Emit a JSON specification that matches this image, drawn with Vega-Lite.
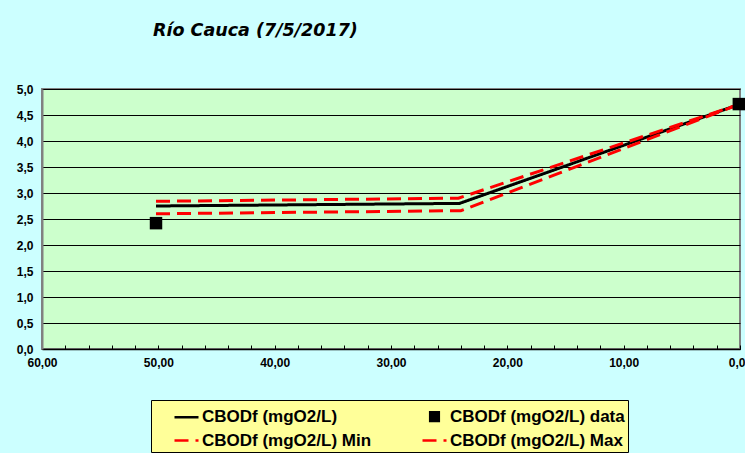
{
  "$schema": "https://vega.github.io/schema/vega-lite/v6.json",
  "width": 698,
  "height": 260,
  "autosize": {"type": "none"},
  "padding": {"left": 42, "top": 89, "right": 5, "bottom": 104},
  "background": "#CCFFFF",
  "title": {
    "text": "Río Cauca (7/5/2017)",
    "anchor": "start",
    "frame": "group",
    "dx": 111,
    "offset": 44,
    "font": "DejaVu Sans",
    "fontSize": 17.5,
    "fontWeight": "bold",
    "fontStyle": "italic",
    "color": "black"
  },
  "data": {
    "values": [
      {"dist": 50.2, "val": 2.75, "series": "CBODf (mgO2/L)"},
      {"dist": 24.1, "val": 2.8, "series": "CBODf (mgO2/L)"},
      {"dist": 0.0, "val": 4.71, "series": "CBODf (mgO2/L)"},
      {"dist": 50.2, "val": 2.6, "series": "CBODf (mgO2/L) Min"},
      {"dist": 24.0, "val": 2.66, "series": "CBODf (mgO2/L) Min"},
      {"dist": 0.0, "val": 4.71, "series": "CBODf (mgO2/L) Min"},
      {"dist": 50.2, "val": 2.84, "series": "CBODf (mgO2/L) Max"},
      {"dist": 24.2, "val": 2.9, "series": "CBODf (mgO2/L) Max"},
      {"dist": 0.0, "val": 4.71, "series": "CBODf (mgO2/L) Max"},
      {"dist": 50.2, "val": 2.42, "series": "CBODf (mgO2/L) data"},
      {"dist": 0.1, "val": 4.71, "series": "CBODf (mgO2/L) data"}
    ]
  },
  "encoding": {
    "x": {
      "field": "dist",
      "type": "quantitative",
      "scale": {"domain": [0, 60], "reverse": true, "nice": false, "zero": false},
      "axis": {
        "title": null,
        "values": [0,2,4,6,8,10,12,14,16,18,20,22,24,26,28,30,32,34,36,38,40,42,44,46,48,50,52,54,56,58,60],
        "labelExpr": "datum.value % 10 == 0 ? replace(format(datum.value, '.2f'), '.', ',') : ''",
        "grid": false,
        "domainColor": "black",
        "domainWidth": 1.5,
        "tickColor": "black",
        "tickSize": -4,
        "labelPadding": 12,
        "labelFont": "Liberation Sans",
        "labelFontSize": 12,
        "labelFontWeight": "bold",
        "labelColor": "black",
        "labelOverlap": false,
        "labelFlush": false
      }
    },
    "y": {
      "field": "val",
      "type": "quantitative",
      "scale": {"domain": [0, 5], "nice": false},
      "axis": {
        "title": null,
        "values": [0, 0.5, 1, 1.5, 2, 2.5, 3, 3.5, 4, 4.5, 5],
        "labelExpr": "replace(format(datum.value, '.1f'), '.', ',')",
        "grid": true,
        "gridColor": "black",
        "gridWidth": 1,
        "gridOpacity": 1,
        "ticks": false,
        "domainColor": "#808080",
        "domainWidth": 2,
        "labelPadding": 9,
        "labelFont": "Liberation Sans",
        "labelFontSize": 12,
        "labelFontWeight": "bold",
        "labelColor": "black",
        "labelOverlap": false,
        "labelFlush": false
      }
    },
    "color": {
      "field": "series",
      "type": "nominal",
      "scale": {
        "domain": ["CBODf (mgO2/L)", "CBODf (mgO2/L) data", "CBODf (mgO2/L) Min", "CBODf (mgO2/L) Max"],
        "range": ["black", "black", "red", "red"]
      },
      "legend": {
        "title": null,
        "orient": "none",
        "legendX": 109,
        "legendY": 311,
        "direction": "horizontal",
        "columns": 2,
        "gridAlign": "each",
        "columnPadding": 30,
        "rowPadding": 1,
        "padding": 3,
        "fillColor": "#FFFF99",
        "strokeColor": "black",
        "labelFont": "Liberation Sans",
        "labelFontSize": 17,
        "labelFontWeight": "bold",
        "labelColor": "black",
        "labelLimit": 400,
        "labelOffset": 2,
        "symbolSize": 576,
        "symbolStrokeWidth": 2.5,
        "symbolOffset": 19
      }
    }
  },
  "layer": [
    {
      "transform": [{"filter": "datum.series != 'CBODf (mgO2/L) data'"}],
      "mark": {"type": "line", "strokeWidth": 3},
      "encoding": {
        "strokeDash": {
          "field": "series",
          "type": "nominal",
          "scale": {
            "domain": ["CBODf (mgO2/L)", "CBODf (mgO2/L) data", "CBODf (mgO2/L) Min", "CBODf (mgO2/L) Max"],
            "range": [[1, 0], [1, 0], [14, 7], [14, 7]]
          }
        }
      }
    },
    {
      "transform": [{"filter": "datum.series == 'CBODf (mgO2/L) data'"}],
      "mark": {"type": "point", "filled": true, "opacity": 1, "size": 1200},
      "encoding": {
        "shape": {
          "field": "series",
          "type": "nominal",
          "scale": {
            "domain": ["CBODf (mgO2/L)", "CBODf (mgO2/L) data", "CBODf (mgO2/L) Min", "CBODf (mgO2/L) Max"],
            "range": ["stroke", "M-0.36,-0.36H0.36V0.36H-0.36Z", "stroke", "stroke"]
          }
        }
      }
    }
  ],
  "config": {
    "view": {"fill": "#CCFFCC", "stroke": "#808080", "strokeWidth": 2}
  }
}
